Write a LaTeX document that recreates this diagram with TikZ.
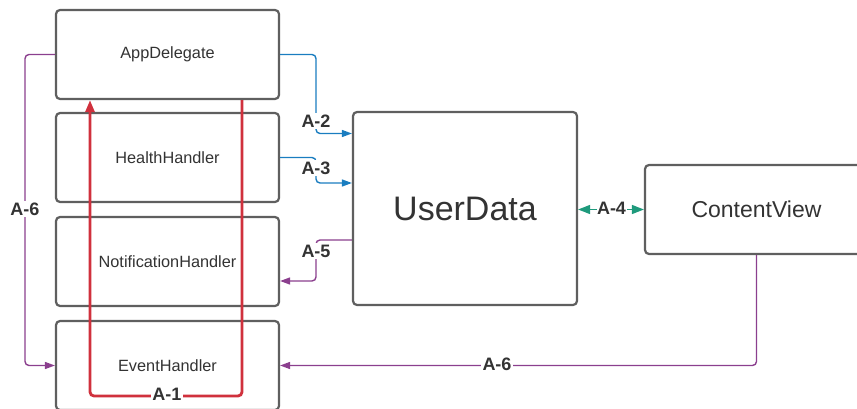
\documentclass[tikz,border=0pt]{standalone}
\usepackage{fontspec}
\setmainfont{Liberation Sans}
\usetikzlibrary{arrows.meta}
\definecolor{boxline}{HTML}{5F5F5F}
\definecolor{txt}{HTML}{333333}
\definecolor{flowblue}{HTML}{1A7DC0}
\definecolor{flowpurple}{HTML}{8B3F8E}
\definecolor{flowred}{HTML}{D0313D}
\definecolor{flowgreen}{HTML}{1E9A7C}
\tikzset{
  module/.style={draw=boxline, line width=2.2pt, rounded corners=4pt, fill=white,
    inner sep=0pt, text=txt, font=\fontsize{16.3}{19}\selectfont},
  lbl/.style={fill=white, text=txt, inner sep=1.5pt, font=\bfseries\fontsize{18}{21}\selectfont},
  link/.style={line width=1.4pt, rounded corners=4pt,
    -{Triangle[length=10pt,width=7pt]}},
}
\begin{document}
\begin{tikzpicture}[x=1pt,y=-1pt]
\useasboundingbox (0,0) rectangle (857,409);
\clip (0,0) rectangle (857,409);

% modules
\node[module, minimum width=223pt, minimum height=89pt] (app) at (167.5,54.5) {AppDelegate};
\node[module, minimum width=223pt, minimum height=89pt] (hh)  at (167.5,157.5) {HealthHandler};
\node[module, minimum width=223pt, minimum height=89pt] (nh)  at (167.5,261.5) {NotificationHandler};
\node[module, minimum width=223pt, minimum height=89pt] (eh)  at (167.5,365.5) {EventHandler};
\node[module, minimum width=224pt, minimum height=193pt, font=\fontsize{34}{40}\selectfont] (ud) at (465,208.5) {UserData};
\node[module, minimum width=223pt, minimum height=89pt, font=\fontsize{23}{27}\selectfont] (cv) at (756.5,209.5) {ContentView};

% A-1: event loop back to the app delegate
\draw[flowred, line width=2.8pt, rounded corners=4pt, -{Triangle[length=12pt,width=9pt]}]
  ([xshift=74.5pt]app.south) |- (90,396) -- ([xshift=-77.5pt]app.south);
\node[lbl] (a1) at (167,394) {A-1};

% A-2, A-3: handlers write into UserData
\draw[link, flowblue] (app.east) -| (316,133.5) -- (ud.west |- 0,133.5);
\node[lbl] (a2) at (316,121) {A-2};
\draw[link, flowblue] (hh.east) -| (316,183) -- (ud.west |- 0,183);
\node[lbl] (a3) at (316,168) {A-3};

% A-5: UserData notifies
\draw[link, flowpurple] (ud.west |- 0,240) -| (316,281) -- (nh.east |- 0,281);
\node[lbl] (a5) at (316,251) {A-5};

% A-4: UserData <-> ContentView
\draw[flowgreen, line width=1.4pt, {Triangle[length=12pt,width=9pt]}-{Triangle[length=12pt,width=9pt]}]
  (ud.east |- cv.west) -- (cv.west);
\node[lbl, inner sep=0.5pt] (a4) at (611.5,208) {A-4};

% A-6: both routes into the event handler
\draw[link, flowpurple] (cv.south) |- (eh.east);
\node[lbl] (a6r) at (497,364) {A-6};
\draw[link, flowpurple] (app.west) -| (25,200) |- (eh.west);
\node[lbl] (a6l) at (25,209) {A-6};
\end{tikzpicture}
\end{document}
